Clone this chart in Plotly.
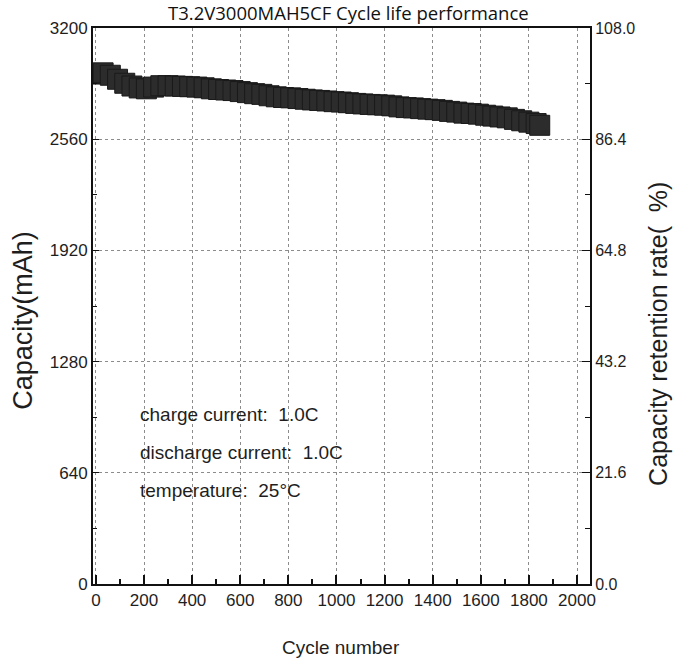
import plotly.graph_objects as go

# ---- data ----
cycles = [0, 30, 60, 90, 120, 150, 180, 210, 240, 270, 300, 330, 360, 390, 420, 450,
          480, 510, 540, 570, 600, 630, 660, 690, 720, 750, 780, 810, 840, 870, 900,
          930, 960, 990, 1020, 1050, 1080, 1110, 1140, 1170, 1200, 1230, 1260, 1290,
          1320, 1350, 1380, 1410, 1440, 1470, 1500, 1530, 1560, 1590, 1620, 1650,
          1680, 1710, 1740, 1770, 1800, 1830, 1845]
capacity = [2935, 2942, 2928, 2905, 2882, 2866, 2855, 2850, 2860, 2868, 2868, 2866,
            2864, 2862, 2860, 2856, 2850, 2846, 2843, 2840, 2834, 2828, 2822, 2818,
            2810, 2804, 2800, 2798, 2794, 2790, 2786, 2783, 2780, 2776, 2774, 2770,
            2766, 2763, 2760, 2758, 2756, 2752, 2746, 2742, 2740, 2736, 2733, 2730,
            2726, 2720, 2716, 2710, 2708, 2704, 2698, 2693, 2688, 2683, 2674, 2666,
            2658, 2650, 2640]
x_ticks = [0, 200, 400, 600, 800, 1000, 1200, 1400, 1600, 1800, 2000]
cap_ticks = [0, 640, 1280, 1920, 2560, 3200]
ret_ticks = [0.0, 21.6, 43.2, 64.8, 86.4, 108.0]
notes = ["charge current:\u00a0\u00a01.0C",
         "discharge current:\u00a0\u00a01.0C",
         "temperature:\u00a0\u00a025°C"]
note_y = [973, 754, 541]

retention = [c * 108.0 / 3200.0 for c in capacity]

FONT = "Liberation Sans, Arial, sans-serif"
INK = "#1e1e1e"

fig = go.Figure()
fig.add_trace(go.Scatter(
    x=cycles, y=capacity, mode="markers",
    marker=dict(symbol="square", size=20, color="#2c2c2c",
                line=dict(width=1, color="#1a1a1a")),
    showlegend=False, hoverinfo="x+y"))
fig.add_trace(go.Scatter(
    x=cycles, y=retention, mode="markers", yaxis="y2",
    marker=dict(opacity=0), showlegend=False, hoverinfo="skip"))

for t, yv in zip(notes, note_y):
    fig.add_annotation(x=175, y=yv, xref="x", yref="y", text=t, showarrow=False,
                       xanchor="left", yanchor="middle",
                       font=dict(family=FONT, size=19, color=INK))

# titles
fig.add_annotation(x=0.515, y=1.027, xref="paper", yref="paper",
                   text="T3.2V3000MAH5CF Cycle life performance", showarrow=False,
                   xanchor="center", yanchor="middle",
                   font=dict(family="Open Sans, sans-serif", size=18.5, color="#111"))
fig.add_annotation(x=-0.141, y=0.475, xref="paper", yref="paper",
                   text="Capacity(mAh)", textangle=-90, showarrow=False,
                   xanchor="center", yanchor="middle",
                   font=dict(family=FONT, size=27, color=INK))
fig.add_annotation(x=1.137, y=0.45, xref="paper", yref="paper",
                   text="Capacity retention rate(\u00a0\u00a0%)", textangle=-90, showarrow=False,
                   xanchor="center", yanchor="middle",
                   font=dict(family=FONT, size=25, color=INK))
fig.add_annotation(x=0.499, y=-0.115, xref="paper", yref="paper",
                   text="Cycle number", showarrow=False,
                   xanchor="center", yanchor="middle",
                   font=dict(family=FONT, size=19, color=INK))

grid = dict(showgrid=True, gridcolor="#8c8c8c", griddash="dot", gridwidth=1)

fig.update_layout(
    width=686, height=668,
    margin=dict(l=93, r=96, t=28, b=84),
    paper_bgcolor="white", plot_bgcolor="white",
    xaxis=dict(range=[-12, 2054], tickvals=x_ticks, ticks="inside", ticklen=9,
               tickwidth=1.5, tickcolor="#111",
               minor=dict(dtick=100, tick0=0, ticks="inside", ticklen=5,
                          tickcolor="#111", showgrid=False),
               showline=True, linecolor="#111", linewidth=2, mirror=True,
               zeroline=False, tickfont=dict(family=FONT, size=17, color=INK), **grid),
    yaxis=dict(range=[0, 3200], tickvals=cap_ticks, ticks="inside", ticklen=6,
               tickcolor="#111",
               minor=dict(dtick=320, tick0=0, ticks="inside", ticklen=4,
                          tickcolor="#111", showgrid=False),
               showline=True, linecolor="#111", linewidth=2, mirror=True,
               zeroline=False, tickfont=dict(family=FONT, size=17, color=INK), **grid),
    yaxis2=dict(range=[0, 108], tickvals=ret_ticks, tickformat=".1f", overlaying="y",
                side="right", ticks="inside", ticklen=8, tickcolor="#111",
                minor=dict(dtick=10.8, tick0=0, ticks="inside", ticklen=5,
                           tickcolor="#111", showgrid=False),
                showline=True, linecolor="#111", linewidth=2, showgrid=False,
                zeroline=False, tickfont=dict(family=FONT, size=16, color=INK)),
)

fig.write_html("out.html", config={"displayModeBar": False},
               post_script="document.body.style.margin='0';document.body.style.overflow='hidden';")
